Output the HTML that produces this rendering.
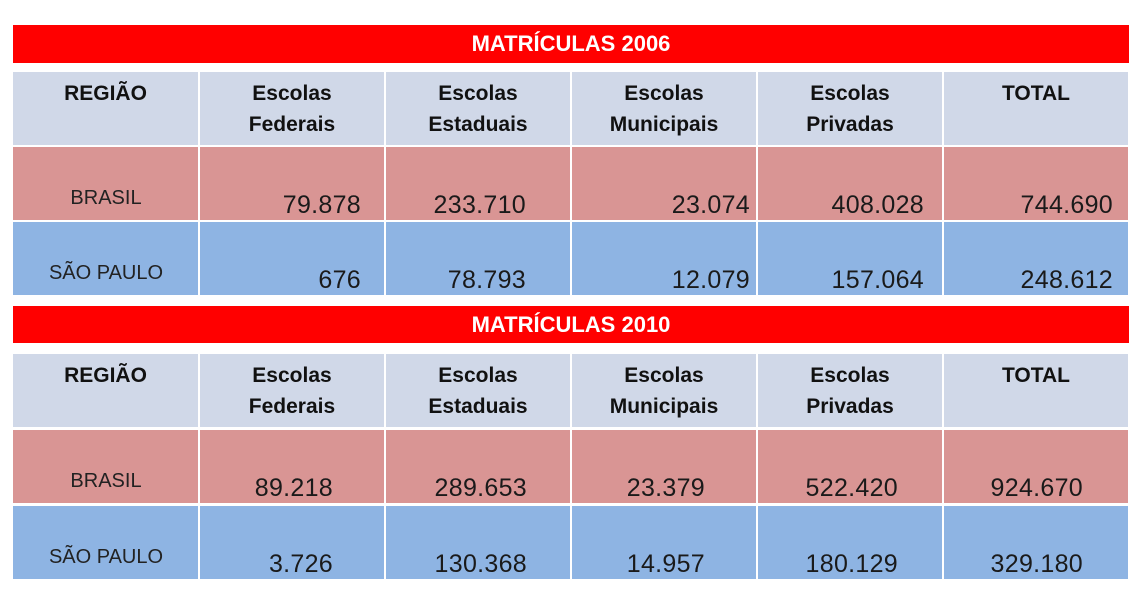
<!DOCTYPE html>
<html><head><meta charset="utf-8"><style>
body{margin:0;background:#fff;width:1141px;height:594px;position:relative;overflow:hidden;font-family:"Liberation Sans",sans-serif}
.bar{position:absolute;background:#ff0000;color:#fff;font-weight:bold;font-size:22px;text-align:center;line-height:38px}
.c{position:absolute;box-sizing:border-box}
.h{background:#d0d8e8;font-weight:bold;font-size:21px;color:#111;text-align:center;line-height:31px;padding-top:6px}
.b{background:#d99594}.s{background:#8eb4e3}
.lab{position:absolute;font-size:20px;color:#222;width:186px;text-align:center}
.num{position:absolute;font-size:25px;color:#1a1a1a;text-align:right;letter-spacing:0.3px}
</style></head><body>
<div id="root"></div>
<script>
const root=document.getElementById('root');
const cols=[13,200,386,572,758,944];
const colW=[185,184,184,184,184,184];
const headers=['REGIÃO','Escolas<br>Federais','Escolas<br>Estaduais','Escolas<br>Municipais','Escolas<br>Privadas','TOTAL'];
const titles=['MATRÍCULAS 2006','MATRÍCULAS 2010'];
const regions=['BRASIL','SÃO PAULO'];
const vals2006Brasil=['79.878','233.710','23.074','408.028','744.690'];
const vals2006SP=['676','78.793','12.079','157.064','248.612'];
const vals2010Brasil=['89.218','289.653','23.379','522.420','924.670'];
const vals2010SP=['3.726','130.368','14.957','180.129','329.180'];
const right2006=[361,526,750,924,1113];
const right2010=[333,527,705,898,1083];
const tables=[
 {title:titles[0],barY:25,barH:38,hY:72,rows:[{y:147,v:vals2006Brasil},{y:222,v:vals2006SP}],r:right2006},
 {title:titles[1],barY:306,barH:37,hY:354,rows:[{y:430,v:vals2010Brasil},{y:506,v:vals2010SP}],r:right2010}
];
tables.forEach((t,ti)=>{
 const bar=document.createElement('div');bar.className='bar';
 
 
 bar.style.cssText=`left:13px;top:${t.barY}px;width:1116px;height:${t.barH}px;line-height:${t.barH}px`;
 bar.textContent=t.title;root.appendChild(bar);
 cols.forEach((x,i)=>{
  const h=document.createElement('div');h.className='c h';
  
  
  h.style.cssText=`left:${x}px;top:${t.hY}px;width:${colW[i]}px;height:73px`;
  h.innerHTML=headers[i];root.appendChild(h);
 });
 t.rows.forEach((row,ri)=>{
  cols.forEach((x,i)=>{
   const c=document.createElement('div');c.className='c '+(ri?'s':'b');
   
   
   c.style.cssText=`left:${x}px;top:${row.y}px;width:${colW[i]}px;height:73px`;
   root.appendChild(c);
  });
  const l=document.createElement('div');l.className='lab';
  
  
  l.style.cssText=`left:13px;top:${row.y+40}px`;
  l.textContent=regions[ri];root.appendChild(l);
  row.v.forEach((v,i)=>{
   const n=document.createElement('div');n.className='num';
   
   
   n.style.cssText=`right:${1141-t.r[i]}px;top:${row.y+44}px`;
   n.textContent=v;root.appendChild(n);
  });
 });
});
</script>
</body></html>
